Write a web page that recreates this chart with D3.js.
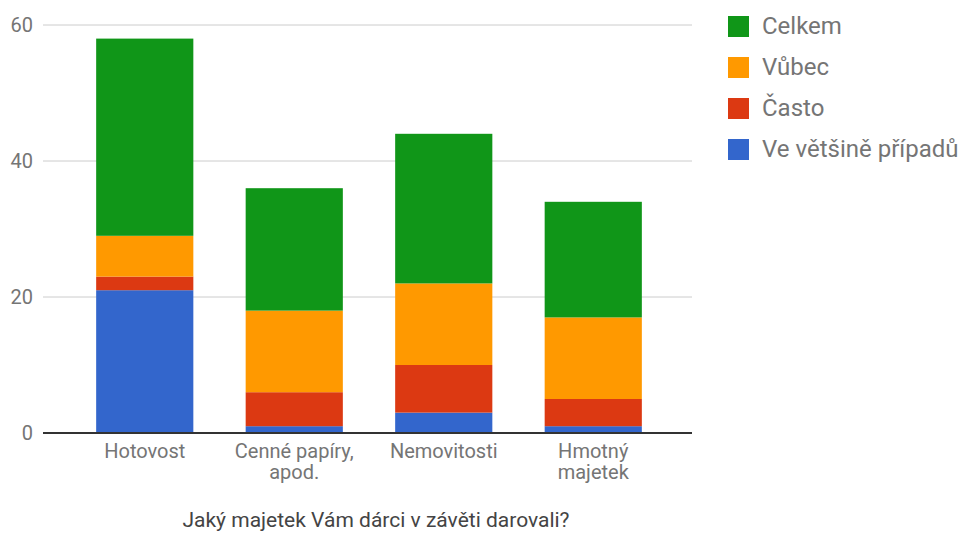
<!DOCTYPE html>
<html>
<head>
<meta charset="utf-8">
<script src="https://cdn.jsdelivr.net/npm/d3@7"></script>
<style>
  body { margin: 0; background: #fff; }
  text { font-family: Roboto, "Noto Sans", sans-serif; }
</style>
</head>
<body>
<svg id="chart"></svg>
<script>
// data
let categories = ["Hotovost", "Cenné papíry, apod.", "Nemovitosti", "Hmotný majetek"];
let catLines = [["Hotovost"], ["Cenné papíry,", "apod."], ["Nemovitosti"], ["Hmotný", "majetek"]];
let seriesNames = ["Ve většině případů", "Často", "Vůbec", "Celkem"];
let seriesColors = ["#3366cc", "#dc3912", "#ff9900", "#109618"];
let vetsinou = [21, 1, 3, 1];
let casto = [2, 5, 7, 4];
let vubec = [6, 12, 12, 12];
let celkem = [29, 18, 22, 17];
let yTicks = [0, 20, 40, 60];
let axisTitle = "Jaký majetek Vám dárci v závěti darovali?";

let width = 960;
let height = 536;

let svg = d3.select("#chart")
    .attr("width", width)
    .attr("height", height);

let rows = categories.map((c, i) => ({
    cat: c,
    "Ve většině případů": vetsinou[i],
    "Často": casto[i],
    "Vůbec": vubec[i],
    "Celkem": celkem[i]
}));

let stack = d3.stack().keys(seriesNames);
let layers = stack(rows);

let plotLeft = 43, plotRight = 692;

let scaleX = d3.scaleBand()
    .domain(categories)
    .range([70, 668])
    .paddingInner(0.35)
    .paddingOuter(0.175);

let scaleY = d3.scaleLinear()
    .domain([0, 60])
    .range([433, 25]);

// gridlines
svg.append("g")
    .selectAll("line")
    .data(yTicks.filter(d => d !== 0))
    .enter()
    .append("line")
    .attr("x1", plotLeft)
    .attr("x2", plotRight)
    .attr("y1", d => scaleY(d))
    .attr("y2", d => scaleY(d))
    .attr("stroke", "#cccccc")
    .attr("stroke-width", 1);

// y labels
svg.append("g")
    .selectAll("text")
    .data(yTicks)
    .enter()
    .append("text")
    .attr("x", 33)
    .attr("y", d => scaleY(d) + 7)
    .attr("text-anchor", "end")
    .attr("font-size", 20)
    .attr("fill", "#757575")
    .text(d => d);

// bars
let color = d3.scaleOrdinal().domain(seriesNames).range(seriesColors);

svg.append("g")
    .selectAll("g")
    .data(layers)
    .enter()
    .append("g")
    .attr("fill", d => color(d.key))
    .selectAll("rect")
    .data(d => d)
    .enter()
    .append("rect")
    .attr("x", d => scaleX(d.data.cat))
    .attr("y", d => scaleY(d[1]))
    .attr("width", scaleX.bandwidth())
    .attr("height", d => scaleY(d[0]) - scaleY(d[1]));

// baseline
svg.append("line")
    .attr("x1", plotLeft)
    .attr("x2", plotRight)
    .attr("y1", scaleY(0))
    .attr("y2", scaleY(0))
    .attr("stroke", "#333333")
    .attr("stroke-width", 2);

// category labels (two lines where the original wraps)
let catG = svg.append("g")
    .selectAll("text")
    .data(categories)
    .enter()
    .append("text")
    .attr("x", d => scaleX(d) + scaleX.bandwidth() / 2)
    .attr("y", 458)
    .attr("text-anchor", "middle")
    .attr("font-size", 20)
    .attr("fill", "#757575");
catG.selectAll("tspan")
    .data((d, i) => catLines[i])
    .enter()
    .append("tspan")
    .attr("x", function() { return d3.select(this.parentNode).attr("x"); })
    .attr("dy", (d, i) => i === 0 ? 0 : 21)
    .text(d => d);

// axis title
svg.append("text")
    .attr("x", 376)
    .attr("y", 527)
    .attr("text-anchor", "middle")
    .attr("font-size", 21)
    .attr("fill", "#444444")
    .text(axisTitle);

// legend (reverse order, top = Celkem)
let legend = svg.append("g")
    .selectAll("g")
    .data(seriesNames.slice().reverse())
    .enter()
    .append("g")
    .attr("transform", (d, i) => `translate(728, ${16 + i * 41})`);

legend.append("rect")
    .attr("width", 21)
    .attr("height", 21)
    .attr("fill", d => color(d));

legend.append("text")
    .attr("x", 34)
    .attr("y", 18)
    .attr("font-size", 24)
    .attr("fill", "#757575")
    .text(d => d);
</script>
</body>
</html>
